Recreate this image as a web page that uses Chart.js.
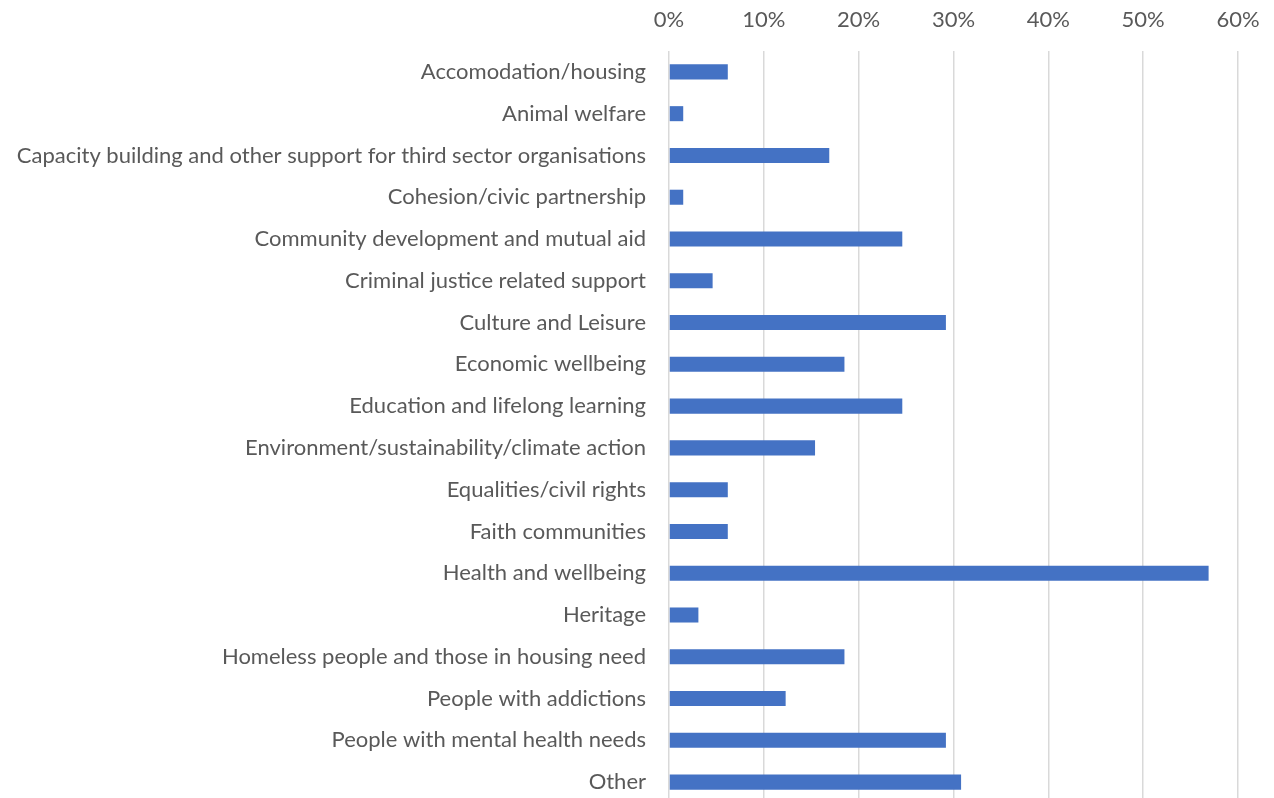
<!DOCTYPE html>
<html>
<head>
<meta charset="utf-8">
<script src="https://cdn.jsdelivr.net/npm/chart.js@4/dist/chart.umd.min.js"></script>
<style>
  html, body { margin: 0; padding: 0; background: #fff; overflow: hidden; }
  canvas { display: block; }
</style>
</head>
<body>
<canvas id="areas" width="1274" height="803"></canvas>
<script>
// Areas of work - share of respondents (%)
const areas = [
  "Accomodation/housing",
  "Animal welfare",
  "Capacity building and other support for third sector organisations",
  "Cohesion/civic partnership",
  "Community development and mutual aid",
  "Criminal justice related support",
  "Culture and Leisure",
  "Economic wellbeing",
  "Education and lifelong learning",
  "Environment/sustainability/climate action",
  "Equalities/civil rights",
  "Faith communities",
  "Health and wellbeing",
  "Heritage",
  "Homeless people and those in housing need",
  "People with addictions",
  "People with mental health needs",
  "Other"
];
const shares = [6.2, 1.5, 16.9, 1.5, 24.6, 4.6, 29.2, 18.5, 24.6, 15.4, 6.2, 6.2, 56.9, 3.1, 18.5, 12.3, 29.2, 30.8];
const axisTicks = [0, 10, 20, 30, 40, 50, 60];

const txtFont = { family: "Lato, 'Open Sans', sans-serif", size: 22 };
const txtColor = '#595959';

const ctx = document.getElementById('areas').getContext('2d');
const chart = new Chart(ctx, {
  type: 'bar',
  data: {
    labels: areas,
    datasets: [{
      data: shares,
      backgroundColor: '#4472C4',
      borderWidth: 0,
      categoryPercentage: 1,
      barPercentage: 0.36
    }]
  },
  options: {
    indexAxis: 'y',
    responsive: false,
    animation: false,
    layout: { padding: { left: 0, right: 36, top: 0, bottom: 0 } },
    plugins: { legend: { display: false }, tooltip: { enabled: false } },
    scales: {
      x: {
        position: 'top',
        min: axisTicks[0],
        max: axisTicks[axisTicks.length - 1],
        afterBuildTicks: (s) => { s.ticks = axisTicks.map(v => ({ value: v })); },
        afterFit: (s) => {
          s.height = 51;
          s.paddingLeft = 0;
          s.paddingRight = 0;
        },
        grid: { color: '#d9d9d9', lineWidth: 1.5, drawTicks: false },
        border: { display: false },
        ticks: {
          padding: 18,
          color: txtColor,
          font: txtFont,
          callback: (v) => v + '%'
        }
      },
      y: {
        afterFit: (s) => {
          s.width = 669;
          s.paddingTop = 0;
          s.paddingBottom = 0;
        },
        grid: { display: false, drawTicks: false },
        border: { display: false },
        ticks: {
          padding: 23,
          color: txtColor,
          font: txtFont,
          autoSkip: false
        }
      }
    }
  }
});
</script>
</body>
</html>
